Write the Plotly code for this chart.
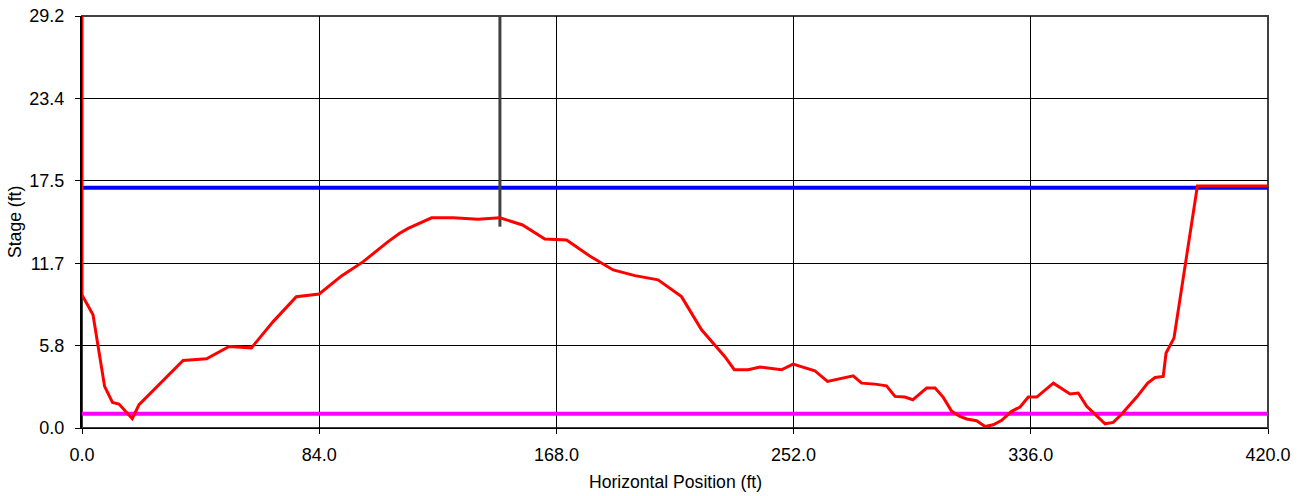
import plotly.graph_objects as go

# Ground profile (red)
ground_x = [0.0, 0.0, 3.9, 8.0, 10.8, 13.1, 17.8, 20.2, 35.8, 44.1, 52.1, 60.0, 67.7, 75.9, 84.0,
            91.9, 99.6, 108.4, 112.5, 115.5, 123.8, 131.4, 140.3, 148.0, 156.0, 163.9, 171.6,
            179.8, 188.1, 195.8, 204.0, 212.3, 219.4, 227.6, 231.0, 235.9, 240.1, 247.7, 251.8,
            259.5, 264.0, 271.9, 273.1, 276.1, 280.8, 284.9, 287.9, 291.4, 294.2, 299.1, 302.1,
            305.0, 308.0, 310.9, 313.3, 316.8, 319.8, 322.7, 325.7, 329.2, 332.2, 335.1, 338.1,
            344.0, 349.9, 352.8, 355.8, 362.3, 365.2, 368.2, 373.5, 377.4, 380.0, 382.9, 383.9,
            386.7, 390.7, 395.0, 420.0]
ground_y = [29.2, 9.43, 8.02, 2.95, 1.81, 1.70, 0.66, 1.65, 4.79, 4.90, 5.78, 5.68, 7.54, 9.31, 9.50,
            10.78, 11.79, 13.21, 13.80, 14.15, 14.90, 14.90, 14.79, 14.90, 14.39, 13.40, 13.33,
            12.19, 11.20, 10.80, 10.50, 9.31, 6.96, 5.07, 4.13, 4.13, 4.32, 4.13, 4.53,
            4.06, 3.30, 3.61, 3.70, 3.18, 3.11, 2.99, 2.24, 2.19, 2.00, 2.83, 2.83,
            2.17, 1.18, 0.82, 0.64, 0.52, 0.11, 0.23, 0.54, 1.18, 1.49, 2.19, 2.19,
            3.18, 2.41, 2.48, 1.53, 0.30, 0.40, 0.99, 2.19, 3.18, 3.58, 3.65, 5.31,
            6.37, 11.68, 17.15, 17.15]

# Water surface (blue) and low level (magenta)
water_x = [0.0, 420.0]
water_y = [17.03, 17.03]
low_x = [0.0, 420.0]
low_y = [1.01, 1.01]

# Vertical marker (gray)
marker_x = [148.0, 148.0]
marker_y = [29.2, 14.27]

x_ticks = [0.0, 84.0, 168.0, 252.0, 336.0, 420.0]
x_ticktext = ["0.0", "84.0", "168.0", "252.0", "336.0", "420.0"]
y_ticks = [0.0, 5.84, 11.68, 17.52, 23.36, 29.2]
y_ticktext = ["0.0", "5.8", "11.7", "17.5", "23.4", "29.2"]

fig = go.Figure()
fig.add_trace(go.Scatter(x=water_x, y=water_y, mode="lines",
                         line=dict(color="#0000FF", width=4), showlegend=False, hoverinfo="skip"))
fig.add_trace(go.Scatter(x=low_x, y=low_y, mode="lines",
                         line=dict(color="#FF00FF", width=4), showlegend=False, hoverinfo="skip"))
fig.add_trace(go.Scatter(x=marker_x, y=marker_y, mode="lines",
                         line=dict(color="#404040", width=3), showlegend=False, hoverinfo="skip"))
fig.add_trace(go.Scatter(x=ground_x, y=ground_y, mode="lines",
                         line=dict(color="#FF0000", width=3), showlegend=False, hoverinfo="skip"))

tick_font = dict(family="Liberation Sans, Arial, sans-serif", size=18, color="#000000")
title_font = dict(family="Liberation Sans, Arial, sans-serif", size=17.6, color="#000000")

fig.update_layout(
    width=1299, height=496,
    margin=dict(l=82, r=31, t=16, b=68, autoexpand=False),
    plot_bgcolor="white", paper_bgcolor="white",
    font=tick_font,
    showlegend=False,
    shapes=[dict(type="rect", xref="paper", yref="paper", x0=0, x1=1, y0=0, y1=1,
                 line=dict(color="#404040", width=2), layer="below")],
    annotations=[
        dict(text="Horizontal Position (ft)", xref="paper", yref="paper", x=0.5, y=0,
             xanchor="center", yanchor="middle", yshift=-54, showarrow=False, font=title_font),
        dict(text="Stage (ft)", xref="paper", yref="paper", x=0, y=0.5, textangle=-90,
             xanchor="center", yanchor="middle", xshift=-67, showarrow=False, font=title_font),
    ],
)
fig.update_xaxes(
    range=[0, 420], tickvals=x_ticks, ticktext=x_ticktext, tickfont=tick_font,
    showgrid=True, gridcolor="#000000", gridwidth=1, automargin=False,
    showline=True, linecolor="#000000", linewidth=1, layer="below traces",
    ticks="outside", ticklen=5, tickcolor="#000000", ticklabelstandoff=5,
    zeroline=False,
)
fig.update_yaxes(
    range=[0, 29.2], tickvals=y_ticks, ticktext=y_ticktext, tickfont=tick_font,
    showgrid=True, gridcolor="#000000", gridwidth=1, automargin=False,
    showline=True, linecolor="#000000", linewidth=2, layer="below traces",
    ticks="outside", ticklen=5, tickcolor="#000000", ticklabelstandoff=7,
    zeroline=False,
)

fig.write_html("out.html", config={"displayModeBar": False},
               post_script="document.body.style.margin='0';document.body.style.padding='0';")
